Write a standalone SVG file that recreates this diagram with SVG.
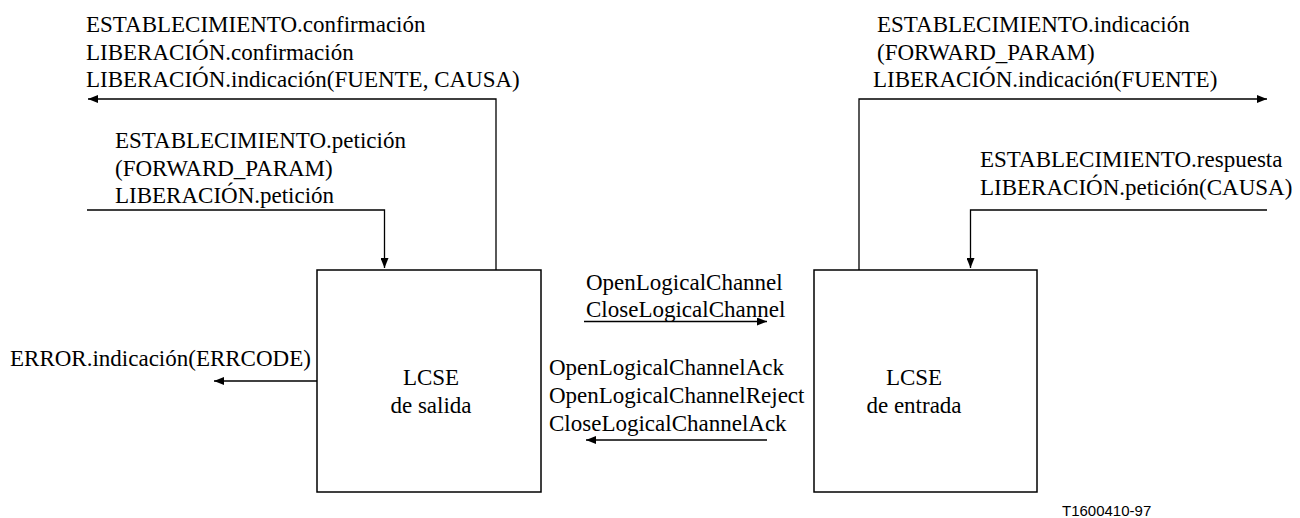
<svg xmlns="http://www.w3.org/2000/svg" width="1300" height="518" viewBox="0 0 1300 518">
<style>
text{font-family:"Liberation Serif","Times New Roman",serif;font-size:23px;fill:#000}
.lbl{font-family:"Liberation Sans",Arial,sans-serif;font-size:15px}
.box{fill:none;stroke:#000;stroke-width:1.5}
.ln{fill:none;stroke:#000;stroke-width:1.3}
</style>
<defs>
<marker id="ah" markerUnits="userSpaceOnUse" markerWidth="10" markerHeight="8" refX="10" refY="4" orient="auto">
<path d="M0,0 L10,4 L0,8 Z" fill="#000"/>
</marker>
</defs>
<g id="lcse-salida">
<rect class="box" x="317" y="270" width="224" height="222"/>
<text x="431" y="385" text-anchor="middle">LCSE</text>
<text x="431" y="413" text-anchor="middle">de salida</text>
</g>
<g id="lcse-entrada">
<rect class="box" x="814" y="270" width="223" height="222"/>
<text x="914" y="385" text-anchor="middle">LCSE</text>
<text x="914" y="413" text-anchor="middle">de entrada</text>
</g>
<g id="connectors">
<path class="ln" d="M496,270 V99 H88" marker-end="url(#ah)"/>
<path class="ln" d="M87,210 H384.5 V268" marker-end="url(#ah)"/>
<path class="ln" d="M317,381 H214" marker-end="url(#ah)"/>
<path class="ln" d="M584,321.5 H767" marker-end="url(#ah)"/>
<path class="ln" d="M767,440 H586" marker-end="url(#ah)"/>
<path class="ln" d="M859,270 V99 H1267" marker-end="url(#ah)"/>
<path class="ln" d="M1267,210 H970.5 V268" marker-end="url(#ah)"/>
</g>
<g id="labels">
<text x="86" y="32">ESTABLECIMIENTO.confirmación</text>
<text x="86" y="60">LIBERACIÓN.confirmación</text>
<text x="86" y="87">LIBERACIÓN.indicación(FUENTE, CAUSA)</text>
<text x="115" y="148">ESTABLECIMIENTO.petición</text>
<text x="115" y="176">(FORWARD_PARAM)</text>
<text x="115" y="203">LIBERACIÓN.petición</text>
<text x="10" y="366">ERROR.indicación(ERRCODE)</text>
<text x="586" y="290">OpenLogicalChannel</text>
<text x="586" y="317">CloseLogicalChannel</text>
<text x="549" y="375">OpenLogicalChannelAck</text>
<text x="549" y="403">OpenLogicalChannelReject</text>
<text x="549" y="431">CloseLogicalChannelAck</text>
<text x="877" y="32">ESTABLECIMIENTO.indicación</text>
<text x="877" y="60">(FORWARD_PARAM)</text>
<text x="873" y="87">LIBERACIÓN.indicación(FUENTE)</text>
<text x="980" y="167">ESTABLECIMIENTO.respuesta</text>
<text x="980" y="195">LIBERACIÓN.petición(CAUSA)</text>
<text class="lbl" x="1062" y="516">T1600410-97</text>
</g>
</svg>
